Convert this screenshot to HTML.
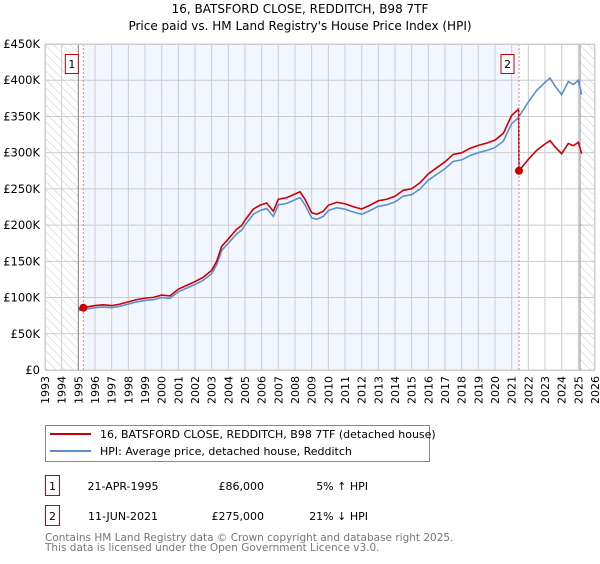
<!DOCTYPE html>
<html><head><meta charset="utf-8"><style>
body{margin:0;background:#fff;width:600px;height:560px;overflow:hidden;font-family:"DejaVu Sans","Liberation Sans",sans-serif}
svg text{font-family:"DejaVu Sans","Liberation Sans",sans-serif}
</style></head><body>
<svg id="c" width="600" height="560">
<defs><pattern id="hatch" width="6" height="6" patternUnits="userSpaceOnUse" patternTransform="rotate(-45)"><line x1="0" y1="0" x2="0" y2="6" stroke="#ccc" stroke-width="1"/></pattern></defs>
<text x="300" y="13" text-anchor="middle" font-size="12">16, BATSFORD CLOSE, REDDITCH, B98 7TF</text>
<text x="300" y="30" text-anchor="middle" font-size="12">Price paid vs. HM Land Registry's House Price Index (HPI)</text>
<g id="plot"></g>
<g>
<rect x="45.5" y="425.5" width="384" height="36" fill="#fff" stroke="#888"/>
<line x1="50" y1="434" x2="91" y2="434" stroke="#cc0000" stroke-width="2"/>
<text x="100" y="438" font-size="11">16, BATSFORD CLOSE, REDDITCH, B98 7TF (detached house)</text>
<line x1="50" y1="451" x2="91" y2="451" stroke="#5b8fd0" stroke-width="2"/>
<text x="100" y="455" font-size="11">HPI: Average price, detached house, Redditch</text>
</g>
<g font-size="11">
<rect x="45.5" y="475.5" width="14" height="20" fill="#fff" stroke="#cc0000"/>
<text x="52.5" y="490" text-anchor="middle">1</text>
<text x="123" y="490" text-anchor="middle">21-APR-1995</text>
<text x="264" y="490" text-anchor="end">£86,000</text>
<text x="368" y="490" text-anchor="end">5% ↑ HPI</text>
<rect x="45.5" y="505.5" width="14" height="20" fill="#fff" stroke="#cc0000"/>
<text x="52.5" y="520" text-anchor="middle">2</text>
<text x="123" y="520" text-anchor="middle">11-JUN-2021</text>
<text x="264" y="520" text-anchor="end">£275,000</text>
<text x="368" y="520" text-anchor="end">21% ↓ HPI</text>
</g>
<text x="45" y="541" font-size="10.5" fill="#777">Contains HM Land Registry data © Crown copyright and database right 2025.</text>
<text x="45" y="551" font-size="10.5" fill="#777">This data is licensed under the Open Government Licence v3.0.</text>
</svg>
<script>
const hpiT=[1995.0,1995.5,1996,1996.5,1997,1997.5,1998,1998.5,1999,1999.5,2000,2000.5,2001,2001.5,2002,2002.5,2003,2003.3,2003.6,2004,2004.5,2004.8,2005,2005.5,2005.9,2006.3,2006.7,2007,2007.5,2008,2008.3,2008.6,2009,2009.3,2009.7,2010,2010.5,2011,2011.5,2012,2012.5,2013,2013.5,2014,2014.5,2015,2015.5,2016,2016.5,2017,2017.5,2018,2018.5,2019,2019.5,2020,2020.5,2021,2021.4,2021.44,2022,2022.5,2023,2023.3,2023.6,2024,2024.4,2024.7,2025,2025.2];
const hpiV=[82,84,86,87,86,88,91,94,96,97,100,99,108,113,118,124,133,145,165,175,188,193,200,215,220,223,212,228,230,235,238,228,210,208,212,220,224,222,218,215,220,226,228,232,240,242,250,262,270,278,288,290,296,300,303,307,316,340,348,350,370,386,397,403,392,380,398,394,400,380];
const saleT=[1995.3,2021.44];
const saleV=[86,275];
const yTicks=[0,50,100,150,200,250,300,350,400,450];
const yLabels=["£0","£50K","£100K","£150K","£200K","£250K","£300K","£350K","£400K","£450K"];
const years=[];for(let y=1993;y<=2026;y++)years.push(y);
const X0=45,X1=595,Y0=370,Y1=44;
const xs=t=>X0+(t-1993)*(X1-X0)/33;
const ys=v=>Y0-v*(Y0-Y1)/450;
const NS="http://www.w3.org/2000/svg";
const g=document.getElementById('plot');
function mk(tag,attrs,parent){const e=document.createElementNS(NS,tag);for(const k in attrs)e.setAttribute(k,attrs[k]);(parent||g).appendChild(e);return e;}
function hpiAt(t){for(let i=0;i<hpiT.length-1;i++){if(t>=hpiT[i]&&t<=hpiT[i+1]){return hpiV[i]+(hpiV[i+1]-hpiV[i])*(t-hpiT[i])/(hpiT[i+1]-hpiT[i]);}}return hpiV[hpiV.length-1];}
let r=mk('rect',{x:X0,y:Y1,width:X1-X0,height:Y0-Y1,fill:'#fff'});


r=mk('rect',{x:xs(saleT[0]),y:Y1,width:xs(saleT[1])-xs(saleT[0]),height:Y0-Y1,fill:'#f2f6fe'});


r=mk('rect',{x:X0,y:Y1,width:xs(1995)-X0,height:Y0-Y1,fill:'url(#hatch)'});


r=mk('rect',{x:xs(2025.1),y:Y1,width:X1-xs(2025.1),height:Y0-Y1,fill:'url(#hatch)'});


years.forEach(y=>{const l=mk('line',{x1:xs(y),x2:xs(y),y1:Y1,y2:Y0,stroke:'#ccc','stroke-width':1});


const t=mk('text',{x:0,y:0,'font-size':11,'text-anchor':'end',transform:`translate(${xs(y)+4},${Y0+6}) rotate(-90)`});t.textContent=y;

});
yTicks.forEach((v,i)=>{const l=mk('line',{x1:X0,x2:X1,y1:ys(v),y2:ys(v),stroke:'#ccc','stroke-width':1});


const t=mk('text',{x:X0-5,y:ys(v)+4,'font-size':11.5,'text-anchor':'end'});t.textContent=yLabels[i];

});
[1995,2025.1].forEach(t=>{const l=mk('line',{x1:xs(t),x2:xs(t),y1:Y1,y2:Y0,stroke:'#888','stroke-width':1});

});
let p=mk('polyline',{points:hpiT.map((t,i)=>xs(t)+','+ys(hpiV[i])).join(' '),fill:'none',stroke:'#5b8fd0','stroke-width':1.6});


const pts=[];
hpiT.forEach((t,i)=>{if(t<saleT[0]-0.3)return;
 const s=(t<saleT[1])?0:1;
 pts.push([t,hpiV[i]*saleV[s]/hpiAt(saleT[s])]);
 if(t<saleT[1]&&i+1<hpiT.length&&hpiT[i+1]>=saleT[1]){pts.push([saleT[1]-0.02,hpiAt(saleT[1])*saleV[0]/hpiAt(saleT[0])]);pts.push([saleT[1],saleV[1]]);}
});
p=mk('polyline',{points:pts.map(a=>xs(a[0])+','+ys(a[1])).join(' '),fill:'none',stroke:'#cc0000','stroke-width':1.6});


saleT.forEach((t,i)=>{
 const l=mk('line',{x1:xs(t),x2:xs(t),y1:Y1,y2:Y0,stroke:'#f08080','stroke-width':1,'stroke-dasharray':'2,2'});
 
 
 const c=mk('circle',{cx:xs(t),cy:ys(saleV[i]),r:4,fill:'#cc0000'});
 
 
 const b=mk('rect',{x:xs(t)-18,y:54.5,width:13,height:19,fill:'#fff',stroke:'#cc0000'});
 
 
 const tx=mk('text',{x:xs(t)-11.5,y:68,'font-size':11,'text-anchor':'middle'});tx.textContent=i+1;
 
 
});
r=mk('rect',{x:X0+0.5,y:Y1+0.5,width:X1-X0-1,height:Y0-Y1,fill:'none',stroke:'#ccc'});


</script>
</body></html>
